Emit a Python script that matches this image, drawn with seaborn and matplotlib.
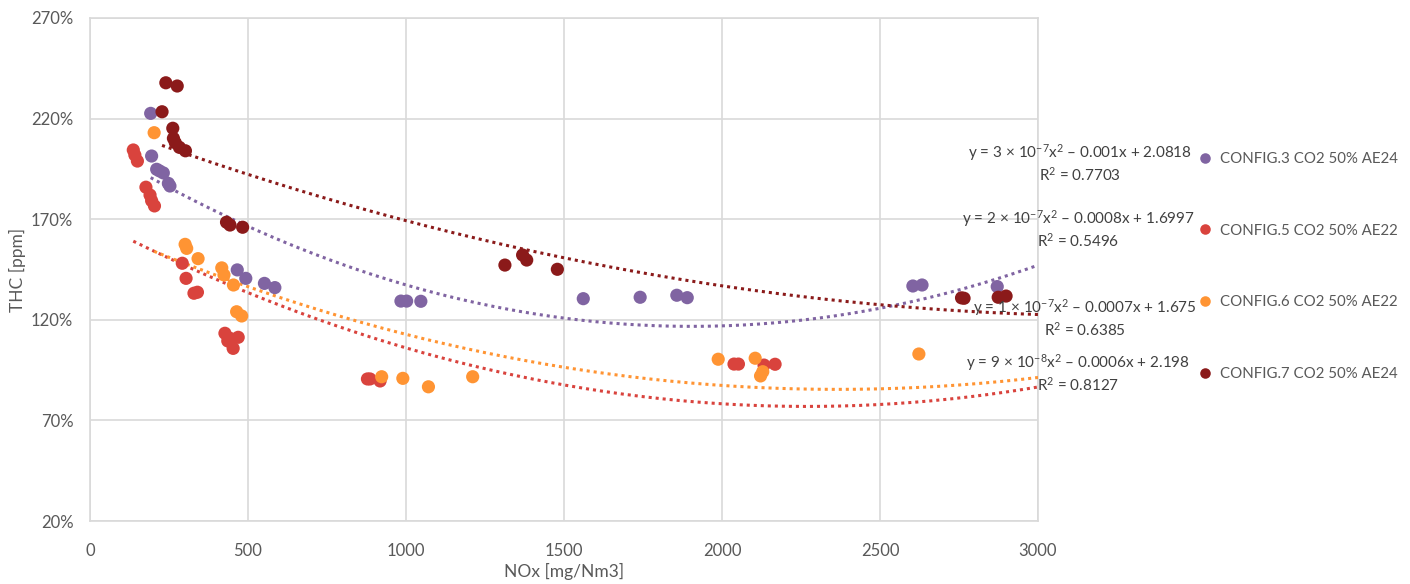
import numpy as np
import pandas as pd
import matplotlib
matplotlib.use("Agg")
import matplotlib.pyplot as plt
import seaborn as sns

# NOx [mg/Nm3] and THC (as % of reference) per configuration
cfg3_nox = [192, 195, 211, 220, 232, 248, 253, 466, 493, 552, 585,
            984, 1002, 1047, 1561, 1741, 1857, 1890, 2604, 2633, 2871]
cfg3_thc = [222.6, 201.4, 194.8, 194.0, 193.0, 187.8, 186.5, 144.8, 140.6, 138.1, 136.0,
            129.3, 129.3, 129.2, 130.5, 131.2, 132.2, 131.0, 136.8, 137.3, 136.5]

cfg5_nox = [137, 142, 150, 177, 190, 195, 204, 292, 304, 329, 340,
            427, 443, 469, 453, 436, 878, 886, 918, 2038, 2052, 2133, 2168]
cfg5_thc = [204.4, 201.9, 198.9, 185.9, 182.0, 179.2, 176.6, 148.1, 140.6, 133.2, 133.7,
            113.3, 110.8, 111.3, 105.8, 109.5, 90.6, 90.6, 89.6, 98.0, 98.0, 97.5, 97.9]

cfg6_nox = [203, 301, 306, 342, 417, 424, 454, 464, 480,
            923, 990, 1071, 1211, 1988, 2105, 2129, 2122, 2623]
cfg6_thc = [213.0, 157.5, 155.5, 150.4, 145.8, 142.3, 137.3, 124.0, 121.9,
            91.7, 90.9, 86.7, 91.7, 100.4, 100.9, 94.2, 92.1, 103.0]

cfg7_nox = [240, 276, 228, 262, 264, 270, 283, 302, 432, 443, 483,
            1313, 1369, 1382, 1479, 2758, 2766, 2874, 2899]
cfg7_thc = [237.8, 236.2, 223.4, 215.2, 210.2, 208.0, 205.7, 204.0, 168.5, 167.1, 166.0,
            147.2, 152.2, 149.7, 145.1, 130.9, 130.7, 131.2, 131.8]

series_names = ["CONFIG.3 CO2 50% AE24", "CONFIG.5 CO2 50% AE22",
                "CONFIG.6 CO2 50% AE22", "CONFIG.7 CO2 50% AE24"]
series_colors = ["#8064A2", "#D9433D", "#FF9433", "#8B1A1A"]

# order-2 trendline coefficients (y as a fraction: a*x^2 + b*x + c)
trend_a = [2.525e-7, 1.807e-7, 1.467e-7, 9.07e-8]
trend_b = [-0.000961, -0.000820, -0.000694, -0.000596]
trend_c = [2.0818, 1.6997, 1.675, 2.198]

trend_labels = [
    "y = 3 × 10$^{-7}$x$^{2}$ – 0.001x + 2.0818\nR$^{2}$ = 0.7703",
    "y = 2 × 10$^{-7}$x$^{2}$ – 0.0008x + 1.6997\nR$^{2}$ = 0.5496",
    "y = 1 × 10$^{-7}$x$^{2}$ – 0.0007x + 1.675\nR$^{2}$ = 0.6385",
    "y = 9 × 10$^{-8}$x$^{2}$ – 0.0006x + 2.198\nR$^{2}$ = 0.8127",
]

x_ticks = [0, 500, 1000, 1500, 2000, 2500, 3000]
y_ticks = [20, 70, 120, 170, 220, 270]

xs = [cfg3_nox, cfg5_nox, cfg6_nox, cfg7_nox]
ys = [cfg3_thc, cfg5_thc, cfg6_thc, cfg7_thc]

frames = []
for name, x, y in zip(series_names, xs, ys):
    frames.append(pd.DataFrame({"NOx": x, "THC": y, "config": name}))
df = pd.concat(frames, ignore_index=True)

sns.set_theme(style="white")
plt.rcParams["font.family"] = ["Lato", "DejaVu Sans"]
plt.rcParams["mathtext.fontset"] = "custom"
plt.rcParams["mathtext.rm"] = "Lato"
plt.rcParams["mathtext.it"] = "Lato"
plt.rcParams["mathtext.bf"] = "Lato"

W, H = 1410, 584
fig = plt.figure(figsize=(W / 100, H / 100), dpi=100)
ax = fig.add_axes([90 / W, 1 - 521 / H, (1038 - 90) / W, (521 - 18) / H])

grid_c = "#D9D9D9"
text_c = "#595959"

# polynomial trendlines, from each series' first point to the axis end
for x, c, a, b, c0 in zip(xs, series_colors, trend_a, trend_b, trend_c):
    xx = np.linspace(min(x), 3000, 300)
    yy = (a * xx ** 2 + b * xx + c0) * 100
    ax.plot(xx, yy, color=c, lw=2.2, linestyle=(0, (1, 1.3)), zorder=3)

sns.scatterplot(data=df, x="NOx", y="THC", hue="config", hue_order=series_names,
                palette=series_colors, s=90, linewidth=0, ax=ax, zorder=4,
                legend=True)

ax.set_xlim(0, 3000)
ax.set_ylim(20, 270)
ax.set_xticks(x_ticks)
ax.set_yticks(y_ticks)
ax.set_xticklabels([str(v) for v in x_ticks])
ax.set_yticklabels([f"{v}%" for v in y_ticks])
ax.tick_params(axis="both", length=0, labelsize=12, colors=text_c)
ax.tick_params(axis="x", pad=16)
ax.tick_params(axis="y", pad=12)
ax.grid(True, color=grid_c, lw=1.2)
for sp in ax.spines.values():
    sp.set_color(grid_c)
    sp.set_linewidth(1.2)

ax.set_xlabel("NOx [mg/Nm3]", fontsize=12.5, color=text_c, labelpad=3)
ax.set_ylabel("THC [ppm]", fontsize=12.5, color=text_c)
ax.yaxis.set_label_coords((26 - 90) / (1038 - 90), 0.5)

# legend outside on the right
handles, labels = ax.get_legend_handles_labels()
ax.legend(handles, labels, loc="upper left", bbox_to_anchor=(1190 / W, 1 - 152 / H),
          bbox_transform=fig.transFigure, frameon=False, fontsize=10.8,
          labelcolor=text_c, handletextpad=0.0, labelspacing=3.85,
          markerscale=0.8, borderaxespad=0, borderpad=0)

# trendline equations
label_pos = [(1080, 163), (1078, 228.5), (1085, 318), (1078, 373)]
for (px, py), txt in zip(label_pos, trend_labels):
    fig.text(px / W, 1 - py / H, txt, ha="center", va="center",
             fontsize=11, color="#404040", linespacing=1.2)

fig.savefig("out.png", dpi=100)
